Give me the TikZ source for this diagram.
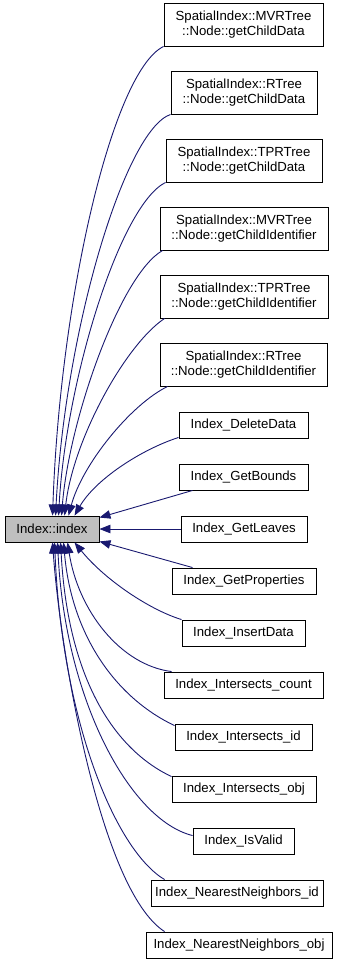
\documentclass[tikz,border=0pt]{standalone}
\usepackage{fontspec}
\setmainfont{Liberation Sans}
\usetikzlibrary{arrows.meta}
\definecolor{edgeblue}{HTML}{191970}
\definecolor{focusgray}{HTML}{BFBFBF}
\begin{document}
\begin{tikzpicture}[x=1pt,y=-1pt,
  box/.style={draw=black,line width=0.9pt,inner sep=0pt,align=center,
    font=\fontsize{13.2}{15.2}\selectfont,minimum height=26pt},
  tall/.style={box,minimum height=43pt},
  focus/.style={box,fill=focusgray},
  call/.style={draw=edgeblue,line width=0.9pt,
    -{Triangle[length=11pt,width=8.5pt]}}]
\useasboundingbox (0,0) rectangle (347,965);

% the called function
\node[focus,minimum width=94pt] (idx) at (52,529) {Index::index};

% callers
\node[tall,minimum width=159pt] (n1) at (243.5,24.5) {SpatialIndex::MVRTree\\::Node::getChildData};
\node[tall,minimum width=146pt] (n2) at (244,92.5) {SpatialIndex::RTree\\::Node::getChildData};
\node[tall,minimum width=156pt] (n3) at (244,160.5) {SpatialIndex::TPRTree\\::Node::getChildData};
\node[tall,minimum width=168pt] (n4) at (244,228.5) {SpatialIndex::MVRTree\\::Node::getChildIdentifier};
\node[tall,minimum width=168pt] (n5) at (244,296.5) {SpatialIndex::TPRTree\\::Node::getChildIdentifier};
\node[tall,minimum width=167pt] (n6) at (243.5,364.5) {SpatialIndex::RTree\\::Node::getChildIdentifier};
\node[box,minimum width=129pt] (n7) at (243.5,425) {Index\_DeleteData};
\node[box,minimum width=129pt] (n8) at (243.5,477) {Index\_GetBounds};
\node[box,minimum width=126pt] (n9) at (244,529) {Index\_GetLeaves};
\node[box,minimum width=144pt] (n10) at (244,581) {Index\_GetProperties};
\node[box,minimum width=123pt] (n11) at (243.5,633) {Index\_InsertData};
\node[box,minimum width=159pt] (n12) at (243.5,685) {Index\_Intersects\_count};
\node[box,minimum width=137pt] (n13) at (243.5,737) {Index\_Intersects\_id};
\node[box,minimum width=144pt] (n14) at (244,789) {Index\_Intersects\_obj};
\node[box,minimum width=101pt] (n15) at (243.5,841) {Index\_IsValid};
\node[box,minimum width=172pt] (n16) at (237,893) {Index\_NearestNeighbors\_id};
\node[box,minimum width=186pt] (n17) at (239,945) {Index\_NearestNeighbors\_obj};

% calls arriving on the top side
\draw[call] (n1.south west) .. controls (112,72) and (60,300) .. ([xshift=48pt]idx.north west);
\draw[call] (n2.south west) .. controls (125,130) and (65,330) .. ([xshift=51pt]idx.north west);
\draw[call] (n3.south west) .. controls (120,205) and (66,380) .. ([xshift=54pt]idx.north west);
\draw[call] ([xshift=3pt]n4.south west) .. controls (120,275) and (69,420) .. ([xshift=57pt]idx.north west);
\draw[call] ([xshift=5pt]n5.south west) .. controls (125,345) and (73,440) .. ([xshift=60pt]idx.north west);
\draw[call] ([xshift=8pt]n6.south west) .. controls (130,405) and (82,465) .. ([xshift=64pt]idx.north west);
\draw[call] ([yshift=1pt]n7.south west) .. controls (140,450) and (95,480) .. ([xshift=70pt]idx.north west);

% calls arriving on the right side
\draw[call] ([xshift=14pt]n8.south west) -- ([yshift=-2pt]idx.north east);
\draw[call] (n9.west) -- (idx.east);
\draw[call] ([xshift=21pt]n10.north west) -- ([yshift=1pt]idx.south east);

% calls arriving on the bottom side
\draw[call] (n11.north west) .. controls (150,610) and (105,580) .. ([xshift=70pt]idx.south west);
\draw[call] ([xshift=8pt]n12.north west) .. controls (120,665) and (78,610) .. ([xshift=63pt]idx.south west);
\draw[call] ([yshift=-2pt]n13.north west) .. controls (120,700) and (72,640) .. ([xshift=59pt]idx.south west);
\draw[call] ([yshift=-1pt]n14.north west) .. controls (115,750) and (68,680) .. ([xshift=56pt]idx.south west);
\draw[call] ([yshift=-8pt]n15.north west) .. controls (130,820) and (65,700) .. ([xshift=53pt]idx.south west);
\draw[call] ([xshift=14pt]n16.north west) .. controls (115,850) and (62,720) .. ([xshift=50pt]idx.south west);
\draw[call] ([xshift=19pt]n17.north west) .. controls (100,890) and (60,650) .. ([xshift=48pt]idx.south west);
\end{tikzpicture}
\end{document}
